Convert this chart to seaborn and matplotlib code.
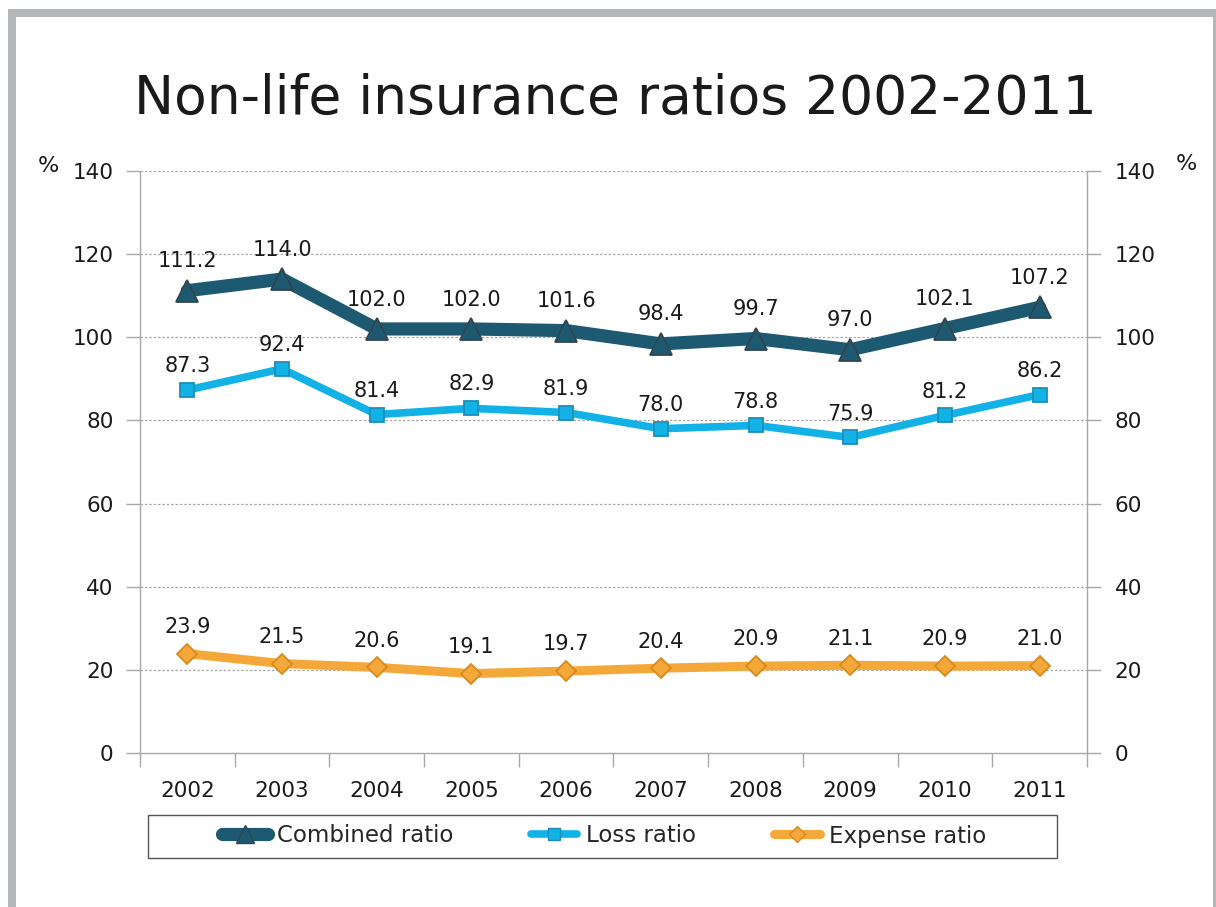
import numpy as np
import pandas as pd
import matplotlib
matplotlib.use('Agg')
import matplotlib.pyplot as plt
from matplotlib.lines import Line2D
from matplotlib.patches import Rectangle
import seaborn as sns


# Chart data
years = ['2002', '2003', '2004', '2005', '2006', '2007', '2008', '2009', '2010', '2011']
combined_ratio = [111.2, 114.0, 102.0, 102.0, 101.6, 98.4, 99.7, 97.0, 102.1, 107.2]
loss_ratio = [87.3, 92.4, 81.4, 82.9, 81.9, 78.0, 78.8, 75.9, 81.2, 86.2]
expense_ratio = [23.9, 21.5, 20.6, 19.1, 19.7, 20.4, 20.9, 21.1, 20.9, 21.0]
y_ticks = [0, 20, 40, 60, 80, 100, 120, 140]

TITLE = 'Non-life insurance ratios 2002-2011'

sns.set_theme(style='white')
plt.rcParams['font.family'] = ['DejaVu Sans']

# series styling: (label, values, color, edge, linewidth, marker, markersize, label offset pt)
series = [
    ('Combined ratio', combined_ratio, '#1D5A72', '#34444e', 9.5, '^', 16, 14),
    ('Loss ratio', loss_ratio, '#12B2E6', '#1a8fb8', 5.5, 's', 10.5, 10),
    ('Expense ratio', expense_ratio, '#F5A83A', '#d98a1c', 6.5, 'D', 10, 12),
]

fig = plt.figure(figsize=(12.16, 9.07), dpi=100)
ax = fig.add_axes([0.1151, 0.1698, 0.7788, 0.6417])

x = np.arange(len(years))
grid_col = '#a8a8a8'

for y in y_ticks[1:]:
    ax.axhline(y, color=grid_col, lw=0.9, ls=(0, (2, 1.5)), zorder=0)

for name, vals, col, edge, lw, mk, ms, off in series:
    df = pd.DataFrame({'x': x, 'y': vals})
    sns.lineplot(data=df, x='x', y='y', ax=ax, color=col, lw=lw, marker=mk,
                 markersize=ms, markerfacecolor=col, markeredgecolor=edge,
                 markeredgewidth=1.3, solid_capstyle='round', zorder=3)
    for xi, v in zip(x, vals):
        ax.annotate(f'{v:.1f}', (xi, v), xytext=(0, off), textcoords='offset points',
                    ha='center', va='bottom', fontsize=15, color='#1a1a1a')

ax.set_xlim(-0.5, len(years) - 0.5)
ax.set_ylim(0, 140)
ax.set_xlabel('')
ax.set_ylabel('')

# category labels centred, tick marks between categories
ax.set_xticks(x)
ax.set_xticklabels(years, fontsize=15.5, color='#1a1a1a')
ax.set_xticks(np.arange(-0.5, len(years)), minor=True)
ax.tick_params(axis='x', which='major', length=0, pad=20)
ax.tick_params(axis='x', which='minor', length=10, width=1, color=grid_col, direction='out', bottom=True)

ax.set_yticks(y_ticks)
ax.set_yticklabels([str(t) for t in y_ticks], fontsize=15.5, color='#1a1a1a')
ax.tick_params(axis='y', length=10, width=1, color=grid_col, direction='out', left=True, pad=9)

for side in ['top', 'right']:
    ax.spines[side].set_visible(False)
for side in ['left', 'bottom']:
    ax.spines[side].set_color(grid_col)
    ax.spines[side].set_linewidth(1)

ax2 = ax.twinx()
ax2.set_ylim(0, 140)
ax2.set_yticks(y_ticks)
ax2.set_yticklabels([str(t) for t in y_ticks], fontsize=15.5, color='#1a1a1a')
ax2.tick_params(axis='y', length=10, width=1, color=grid_col, direction='out', right=True, pad=10)
ax2.grid(False)
for side in ['top', 'left', 'bottom']:
    ax2.spines[side].set_visible(False)
ax2.spines['right'].set_color(grid_col)
ax2.spines['right'].set_linewidth(1)

# percent unit labels
fig.text(48 / 1216, 1 - 166 / 907, '%', fontsize=16, ha='center', va='center', color='#1a1a1a')
fig.text(1186 / 1216, 1 - 164 / 907, '%', fontsize=16, ha='center', va='center', color='#1a1a1a')

# title
fig.text(0.506, 1 - 99 / 907, TITLE, fontsize=38.5, ha='center', va='center', color='#1a1a1a')

# legend
handles = [Line2D([0], [0], color=col, lw=lw, marker=mk, markersize=ms * 0.8,
                  markerfacecolor=col, markeredgecolor=edge, solid_capstyle='round')
           for name, vals, col, edge, lw, mk, ms, off in series]
labels = [s[0] for s in series]
fig.legend(handles, labels, loc='center', bbox_to_anchor=(604 / 1216, 1 - 836 / 907),
           ncol=3, frameon=False, fontsize=16.5, handlelength=2.0, columnspacing=3.4,
           handletextpad=0.4)
fig.patches.append(Rectangle((148 / 1216, 1 - 858 / 907), 909 / 1216, 43 / 907,
                             transform=fig.transFigure, fill=False, ec='#555555', lw=1))

# slide frame
frame_col = '#b6b7bb'
fig.patches.append(Rectangle((8 / 1216, 1 - 17 / 907), 1208 / 1216, 8 / 907,
                             transform=fig.transFigure, color=frame_col, lw=0))
fig.patches.append(Rectangle((8 / 1216, 0), 8 / 1216, 1 - 9 / 907,
                             transform=fig.transFigure, color=frame_col, lw=0))
fig.patches.append(Rectangle((1213 / 1216, 0), 3 / 1216, 1 - 9 / 907,
                             transform=fig.transFigure, color=frame_col, lw=0))

fig.savefig('out.png', dpi=100, facecolor='white')
